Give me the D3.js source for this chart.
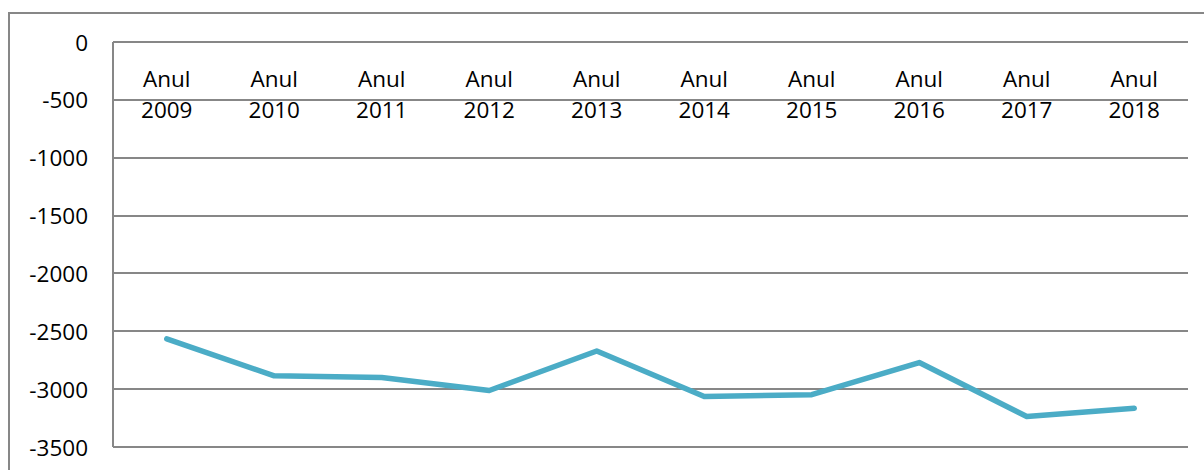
<!DOCTYPE html>
<html><head><meta charset="utf-8">
<script src="https://cdn.jsdelivr.net/npm/d3@7"></script>
<style>html,body{margin:0;padding:0;background:#fff;overflow:hidden}</style>
</head><body>
<svg id="c" width="1204" height="470"></svg>
<script>
const categories = ["Anul 2009","Anul 2010","Anul 2011","Anul 2012","Anul 2013","Anul 2014","Anul 2015","Anul 2016","Anul 2017","Anul 2018"];
const values = [-2565, -2885, -2900, -3012, -2670, -3063, -3048, -2770, -3236, -3165];
const yTicks = [0, -500, -1000, -1500, -2000, -2500, -3000, -3500];

const svg = d3.select("#c");
const font = "'Open Sans', 'Noto Sans', sans-serif";
const grid = "#878787";
const fs = 22.5;
const m = {left: 113, right: 1188, top: 42, bottom: 447};

// outer frame
svg.append("rect").attr("x", 9).attr("y", 13).attr("width", 1230).attr("height", 500)
  .attr("fill", "none").attr("stroke", grid).attr("stroke-width", 2);

const x = d3.scaleBand().domain(categories).range([m.left, m.right]);
const y = d3.scaleLinear().domain([-3500, 0]).range([m.bottom, m.top]);

// gridlines
svg.append("g").selectAll("line").data(yTicks).join("line")
  .attr("x1", m.left).attr("x2", m.right)
  .attr("y1", d => Math.round(y(d))).attr("y2", d => Math.round(y(d)))
  .attr("stroke", grid).attr("stroke-width", 2);

// y axis line
svg.append("line").attr("x1", m.left).attr("x2", m.left).attr("y1", m.top).attr("y2", m.bottom)
  .attr("stroke", grid).attr("stroke-width", 2);

// y labels
const yAxis = d3.axisLeft(y).tickValues(yTicks).tickSize(0).tickPadding(0).tickFormat(d => String(d));
const ya = svg.append("g").attr("transform", `translate(88,0)`).call(yAxis);
ya.select(".domain").remove();
ya.selectAll("text").attr("font-family", font).attr("font-size", fs).attr("fill", "#000")
  .attr("dy", null).attr("dominant-baseline", "alphabetic").attr("y", 8);

// category labels (two lines) at the top
const xa = svg.append("g");
categories.forEach(c => {
  const parts = c.split(" ");
  const cx = x(c) + x.bandwidth() / 2;
  const t = xa.append("text").attr("text-anchor", "middle").attr("font-family", font)
    .attr("font-size", fs).attr("fill", "#000");
  t.append("tspan").attr("x", cx).attr("y", 87).text(parts[0]);
  t.append("tspan").attr("x", cx).attr("y", 118).text(parts[1]);
});

// line
const line = d3.line().x((d, i) => x(categories[i]) + x.bandwidth() / 2).y(d => y(d));
svg.append("path").datum(values).attr("d", line).attr("fill", "none")
  .attr("stroke", "#4BACC6").attr("stroke-width", 5.5)
  .attr("stroke-linejoin", "round").attr("stroke-linecap", "round");
</script>
</body></html>
